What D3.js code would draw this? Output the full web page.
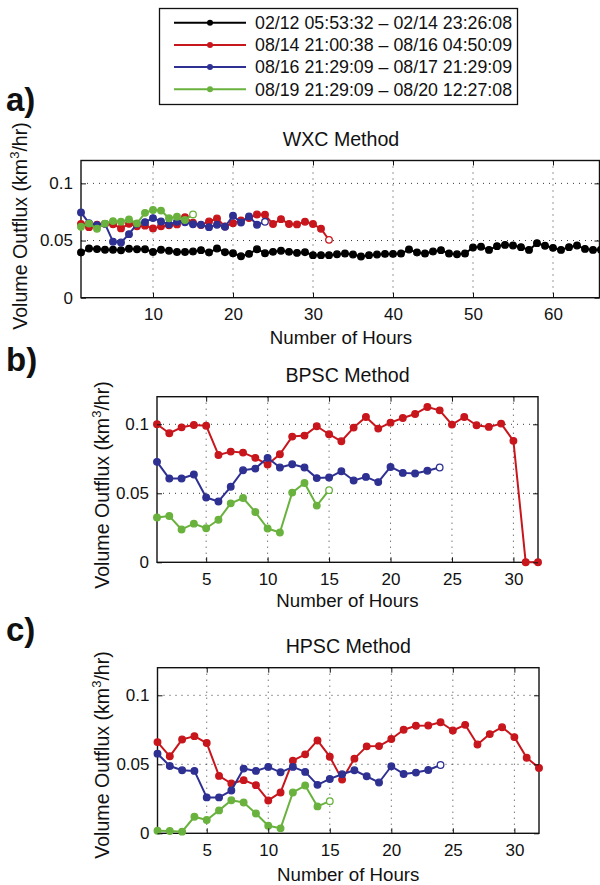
<!DOCTYPE html>
<html><head><meta charset="utf-8">
<script src="https://cdn.jsdelivr.net/npm/d3@7"></script>
<style>
body{margin:0;background:#fff}
svg text{font-family:"Liberation Sans",Arial,Helvetica,sans-serif;fill:#111}
</style>
</head><body>
<svg id="chart" width="600" height="885"></svg>
<script>
// ---------------- DATA ----------------
const legendLabels = [
  "02/12 05:53:32 \u2013 02/14 23:26:08",
  "08/14 21:00:38 \u2013 08/16 04:50:09",
  "08/16 21:29:09 \u2013 08/17 21:29:09",
  "08/19 21:29:09 \u2013 08/20 12:27:08"
];
const seriesColors = ["#000000", "#c8161d", "#2e3192", "#6ab23e"];

// Panel a) WXC Method
const wxcBlack = [0.0395,0.0430,0.0425,0.0420,0.0420,0.0415,0.0428,0.0424,0.0424,0.0400,
  0.0420,0.0410,0.0400,0.0400,0.0404,0.0416,0.0395,0.0430,0.0398,0.0389,
  0.0363,0.0383,0.0424,0.0389,0.0401,0.0410,0.0401,0.0392,0.0398,0.0372,
  0.0372,0.0372,0.0380,0.0386,0.0378,0.0360,0.0372,0.0378,0.0383,0.0383,
  0.0386,0.0421,0.0395,0.0386,0.0404,0.0416,0.0386,0.0380,0.0386,0.0439,
  0.0445,0.0418,0.0451,0.0462,0.0456,0.0442,0.0418,0.0477,0.0454,0.0436,
  0.0418,0.0442,0.0456,0.0427,0.0418,0.0420];
const wxcRed = [0.0646,0.0617,0.0638,0.0646,0.0643,0.0606,0.0646,0.0624,0.0630,0.0606,
  0.0624,0.0633,0.0641,0.0703,0.0655,0.0635,0.0667,0.0693,0.0623,0.0652,
  0.0676,0.0696,0.0728,0.0725,0.0644,0.0687,0.0644,0.0641,0.0664,0.0644,
  0.0603,0.0506];
const wxcBlue = [0.0746,0.0652,0.0635,0.0646,0.0490,0.0483,0.0556,0.0646,0.0661,0.0696,
  0.0667,0.0641,0.0664,0.0660,0.0643,0.0638,0.0617,0.0638,0.0620,0.0717,
  0.0658,0.0711,0.0638,0.0664];
const wxcGreen = [0.0620,0.0648,0.0603,0.0648,0.0670,0.0665,0.0685,0.0650,0.0742,0.0767,
  0.0762,0.0695,0.0708,0.0680,0.0728];

// Panel b) BPSC Method
const bpscRed = [0.1000,0.0935,0.0978,0.0995,0.0990,0.0778,0.0802,0.0795,0.0757,0.0708,
  0.0783,0.0911,0.0918,0.0986,0.0928,0.0877,0.0976,0.1053,0.0969,0.1012,
  0.1046,0.1075,0.1125,0.1101,0.0998,0.1053,0.0993,0.0981,0.1005,0.0880,
  0.0000,0.0000];
const bpscBlue = [0.0728,0.0607,0.0607,0.0636,0.0470,0.0441,0.0547,0.0667,0.0679,0.0757,
  0.0687,0.0711,0.0687,0.0610,0.0614,0.0660,0.0593,0.0619,0.0581,0.0691,
  0.0648,0.0643,0.0663,0.0687];
const bpscGreen = [0.0325,0.0335,0.0238,0.0280,0.0247,0.0308,0.0427,0.0466,0.0364,0.0245,
  0.0216,0.0505,0.0575,0.0411,0.0523];

// Panel c) HPSC Method
const hpscRed = [0.0661,0.0558,0.0680,0.0704,0.0654,0.0416,0.0361,0.0385,0.0349,0.0238,
  0.0296,0.0526,0.0572,0.0673,0.0555,0.0389,0.0541,0.0630,0.0632,0.0683,
  0.0750,0.0779,0.0781,0.0805,0.0745,0.0786,0.0644,0.0719,0.0769,0.0697,
  0.0548,0.0474];
const hpscBlue = [0.0577,0.0488,0.0457,0.0452,0.0260,0.0260,0.0310,0.0469,0.0452,0.0481,
  0.0442,0.0481,0.0445,0.0351,0.0394,0.0428,0.0457,0.0413,0.0368,0.0486,
  0.0430,0.0440,0.0459,0.0495];
const hpscGreen = [0.0019,0.0017,0.0012,0.0120,0.0096,0.0166,0.0240,0.0223,0.0144,0.0055,
  0.0036,0.0296,0.0346,0.0195,0.0233];

const xTicksA = [10, 20, 30, 40, 50, 60];
const xTicksBC = [5, 10, 15, 20, 25, 30];
const yTicks = [0, 0.05, 0.1];
const yTickLabels = ["0", "0.05", "0.1"];
const panelTitles = ["WXC Method", "BPSC Method", "HPSC Method"];
const panelLetters = ["a)", "b)", "c)"];
const xLabel = "Number of Hours";

// ---------------- LAYOUT ----------------
const svg = d3.select("#chart");
const FS_TICK = 17, FS_XLAB = 18.7, FS_YLAB = 19.6, FS_TITLE = 19.6, FS_LEG = 17.8;

const panels = [
  { left: 81, right: 601, top: 160.5, bottom: 297.7, xMax: 66, xTicks: xTicksA,
    series: [wxcBlack, wxcRed, wxcBlue, wxcGreen], colorIdx: [0,1,2,3], openLast: [false,true,true,true],
    titleY: 146, xLabelY: 344, yLabelX: 27, yLabelC: 226, letterY: 111 },
  { left: 157, right: 538, top: 396.7, bottom: 562.3, xMax: 32, xTicks: xTicksBC,
    series: [bpscRed, bpscBlue, bpscGreen], colorIdx: [1,2,3], openLast: [false,true,true],
    titleY: 382, xLabelY: 607, yLabelX: 109, yLabelC: 485, letterY: 371 },
  { left: 157.5, right: 539, top: 667.7, bottom: 833.3, xMax: 32, xTicks: xTicksBC,
    series: [hpscRed, hpscBlue, hpscGreen], colorIdx: [1,2,3], openLast: [false,true,true],
    titleY: 653, xLabelY: 881, yLabelX: 109, yLabelC: 755, letterY: 641 }
];

panels.forEach((p, pi) => {
  const x = d3.scaleLinear().domain([1, p.xMax]).range([p.left, p.right]);
  const y = d3.scaleLinear().domain([0, 0.12]).range([p.bottom, p.top]);
  const visRight = Math.min(p.right, 599.5);
  const g = svg.append("g");
  const clipId = "clip" + pi;
  svg.append("clipPath").attr("id", clipId).append("rect")
    .attr("x", p.left - 6).attr("y", p.top - 6).attr("width", visRight - p.left + 12).attr("height", p.bottom - p.top + 12);
  const gclip = "gclip" + pi;
  svg.append("clipPath").attr("id", gclip).append("rect")
    .attr("x", p.left).attr("y", p.top).attr("width", visRight - p.left).attr("height", p.bottom - p.top);

  // grid
  const grid = g.append("g").attr("clip-path", `url(#${gclip})`);
  grid.selectAll("line.vg").data(p.xTicks).join("line")
    .attr("x1", d => x(d)).attr("x2", d => x(d)).attr("y1", p.top).attr("y2", p.bottom)
    .attr("stroke", "#222").attr("stroke-width", 0.9).attr("stroke-dasharray", "1,5");
  grid.selectAll("line.hg").data(yTicks.filter(v => v > 0)).join("line")
    .attr("x1", p.left).attr("x2", visRight).attr("y1", d => y(d)).attr("y2", d => y(d))
    .attr("stroke", "#222").attr("stroke-width", 0.9).attr("stroke-dasharray", "1,5");

  // frame
  g.append("rect").attr("x", p.left).attr("y", p.top)
    .attr("width", visRight - p.left).attr("height", p.bottom - p.top)
    .attr("fill", "none").attr("stroke", "#111").attr("stroke-width", 1.4);

  // series
  const plot = g.append("g").attr("clip-path", `url(#${clipId})`);
  const line = d3.line().x((d, i) => x(i + 1)).y(d => y(d));
  p.series.forEach((vals, si) => {
    const col = seriesColors[p.colorIdx[si]];
    const sg = plot.append("g");
    sg.append("path").datum(vals).attr("d", line)
      .attr("fill", "none").attr("stroke", col).attr("stroke-width", 2).attr("stroke-linejoin", "round");
    sg.selectAll("circle").data(vals).join("circle")
      .attr("cx", (d, i) => x(i + 1)).attr("cy", d => y(d)).attr("r", 3.3)
      .attr("fill", (d, i) => (p.openLast[si] && i === vals.length - 1) ? "#fff" : col)
      .attr("stroke", col).attr("stroke-width", 1.3);
  });

  // axes
  const fmtY = d => yTickLabels[yTicks.indexOf(d)];
  const ax = g.append("g").attr("transform", `translate(0,${p.bottom})`)
    .call(d3.axisBottom(x).tickValues(p.xTicks).tickSize(-5).tickPadding(10.5));
  const at = g.append("g").attr("transform", `translate(0,${p.top})`)
    .call(d3.axisTop(x).tickValues(p.xTicks).tickSize(-5).tickFormat(""));
  const al = g.append("g").attr("transform", `translate(${p.left},0)`)
    .call(d3.axisLeft(y).tickValues(yTicks).tickSize(-5).tickPadding(8).tickFormat(fmtY));
  const ar = g.append("g").attr("transform", `translate(${visRight},0)`)
    .call(d3.axisRight(y).tickValues(yTicks).tickSize(-5).tickFormat(""));
  [ax, at, al, ar].forEach(a => {
    a.select(".domain").remove();
    a.selectAll(".tick line").attr("stroke", "#111").attr("stroke-width", 1);
    a.selectAll("text").attr("font-size", FS_TICK).attr("fill", "#111")
      .style("font-family", '"Liberation Sans",Arial,sans-serif');
  });
  ax.selectAll(".tick").filter(d => x(d) > 599).remove();
  at.selectAll(".tick").filter(d => x(d) > 599).remove();

  const cx = (p.left + p.right) / 2;
  g.append("text").attr("x", cx).attr("y", p.titleY).attr("text-anchor", "middle")
    .attr("font-size", FS_TITLE).text(panelTitles[pi]);
  g.append("text").attr("x", cx).attr("y", p.xLabelY).attr("text-anchor", "middle")
    .attr("font-size", FS_XLAB).text(xLabel);
  const yl = g.append("text")
    .attr("transform", `translate(${p.yLabelX},${p.yLabelC}) rotate(-90)`)
    .attr("text-anchor", "middle").attr("font-size", FS_YLAB);
  yl.append("tspan").text("Volume Outflux (km");
  yl.append("tspan").attr("font-size", 13).attr("dy", -8).text("3");
  yl.append("tspan").attr("dy", 8).text("/hr)");
  g.append("text").attr("x", 6).attr("y", p.letterY).attr("font-size", 33)
    .attr("font-weight", "bold").text(panelLetters[pi]);
});

// ---------------- LEGEND ----------------
const lg = svg.append("g");
lg.append("rect").attr("x", 159.5).attr("y", 8.5).attr("width", 358).attr("height", 96)
  .attr("fill", "#fff").attr("stroke", "#111").attr("stroke-width", 1.3);
legendLabels.forEach((lab, i) => {
  const yy = 22.7 + i * 22.2;
  lg.append("line").attr("x1", 174).attr("x2", 246).attr("y1", yy).attr("y2", yy)
    .attr("stroke", seriesColors[i]).attr("stroke-width", 2);
  lg.append("circle").attr("cx", 210).attr("cy", yy).attr("r", 3).attr("fill", seriesColors[i]);
  lg.append("text").attr("x", 255).attr("y", yy + 6.3).attr("font-size", FS_LEG).text(lab);
});
</script>
</body></html>
